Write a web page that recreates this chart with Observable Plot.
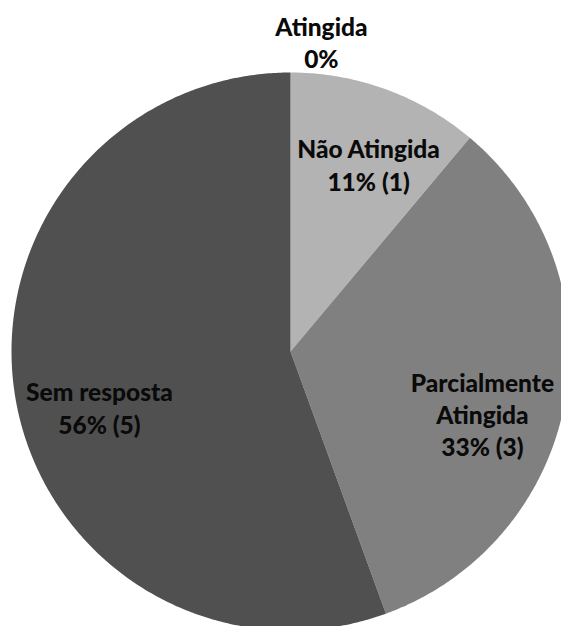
<!DOCTYPE html>
<html>
<head>
<meta charset="utf-8">
<script src="https://cdn.jsdelivr.net/npm/d3@7"></script>
<script src="https://cdn.jsdelivr.net/npm/@observablehq/plot@0.6"></script>
<style>
  html, body { margin: 0; padding: 0; background: #fff; }
</style>
</head>
<body>
<div id="chart"></div>
<script>
const categories = ["Atingida", "Não Atingida", "Parcialmente Atingida", "Sem resposta"];
const counts = [0, 1, 3, 5];
const percents = [0, 11, 33, 56];
const labelTexts = ["Atingida\n0%", "Não Atingida\n11% (1)", "Parcialmente\nAtingida\n33% (3)", "Sem resposta\n56% (5)"];
const colors = ["#d9d9d9", "#b3b3b3", "#808080", "#505050"];

// label layout (polar: degrees clockwise from top, radius as fraction of pie radius)
const labelAngle = [5.7, 22.6, 107.9, 253.8];
const labelRadius = [1.115, 0.728, 0.723, 0.713];

const pie = d3.pie().value(d => d.count).sort(null).startAngle(0).endAngle(2 * Math.PI);
const records = categories.map((c, i) => ({category: c, count: counts[i], percent: percents[i]}));
const arcs = pie(records);

const polys = [];
arcs.forEach(a => {
  if (a.endAngle - a.startAngle <= 0) return;
  const cat = a.data.category;
  polys.push({category: cat, x: 0, y: 0});
  const n = Math.max(2, Math.ceil((a.endAngle - a.startAngle) / (Math.PI / 360)));
  for (let k = 0; k <= n; k++) {
    const t = a.startAngle + (a.endAngle - a.startAngle) * k / n;
    polys.push({category: cat, x: Math.sin(t), y: Math.cos(t)});
  }
});

const labels = categories.map((c, i) => {
  const t = labelAngle[i] * Math.PI / 180;
  return {text: labelTexts[i], x: labelRadius[i] * Math.sin(t), y: labelRadius[i] * Math.cos(t)};
});

const cx = 290, cy = 351, R = 279;
const chart = Plot.plot({
  width: 561,
  height: 626,
  margin: 0,
  x: {domain: [-1, 1], range: [cx - R, cx + R], axis: null},
  y: {domain: [-1, 1], range: [cy + R, cy - R], axis: null},
  color: {domain: categories, range: colors},
  style: {fontFamily: "Lato, sans-serif", background: "#fff", overflow: "hidden"},
  marks: [
    Plot.line(polys, {x: "x", y: "y", z: "category", fill: "category", stroke: null, curve: "linear-closed"}),
    Plot.text(labels, {x: "x", y: "y", text: "text", fontSize: 24.5, fontWeight: 900, fill: "#0a0a0a", lineHeight: 1.32, lineAnchor: "middle", textAnchor: "middle"})
  ]
});
document.getElementById("chart").appendChild(chart);
</script>
</body>
</html>
